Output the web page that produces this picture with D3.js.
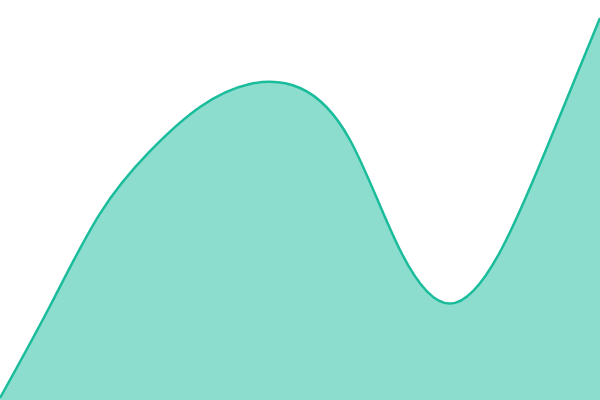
<!DOCTYPE html>
<html>
<head>
<meta charset="utf-8">
<script src="https://cdn.jsdelivr.net/npm/d3@7"></script>
<style>
  html, body { margin: 0; padding: 0; background: #fff; }
  svg { display: block; }
</style>
</head>
<body>
<div id="chart"></div>
<script>
// values, one every 50px across the plot
const steps = [0, 1, 2, 3, 4, 5, 6, 7, 8, 9, 10, 11, 12]
const values = [0.5, 23.5, 46.6, 62.2, 73.25, 79, 78, 65, 37.5, 24.1, 37, 65, 95.5]

const width = 600
const height = 400

const svg = d3.select('#chart')
  .append('svg')
  .attr('width', width)
  .attr('height', height)

const x = d3.scaleLinear()
  .domain([0, 12])
  .range([0, width])

const y = d3.scaleLinear()
  .domain([0, 100])
  .range([height, 0])

const data = steps.map(function (s, i) { return { s: s, v: values[i] } })

const area = d3.area()
  .x(function (d) { return x(d.s) })
  .y0(height)
  .y1(function (d) { return y(d.v) })
  .curve(d3.curveNatural)

const line = d3.line()
  .x(function (d) { return x(d.s) })
  .y(function (d) { return y(d.v) })
  .curve(d3.curveNatural)

// light fill under the curve
svg.append('path')
  .datum(data)
  .attr('d', area)
  .style('fill', '#1abc9c')
  .style('fill-opacity', 0.5)

svg.append('path')
  .datum(data)
  .attr('d', line)
  .style('fill', 'none')
  .style('stroke', '#1abc9c')
  .style('stroke-width', 2.5)
</script>
</body>
</html>
